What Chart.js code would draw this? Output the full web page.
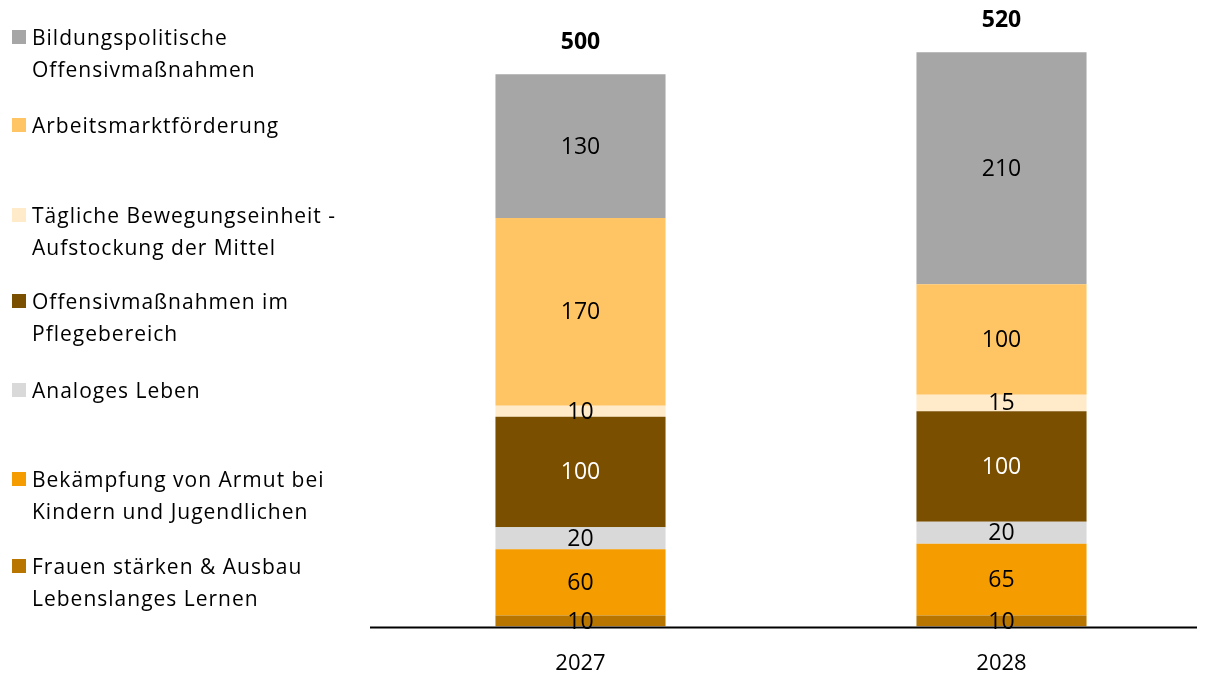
<!DOCTYPE html>
<html>
<head>
<meta charset="utf-8">
<script src="https://cdn.jsdelivr.net/npm/chart.js@4.4.1/dist/chart.umd.min.js"></script>
<style>
  html, body { margin: 0; padding: 0; background: #fff; }
  #wrap { position: relative; width: 1212px; height: 673px; }
  #chart { position: absolute; left: 0; top: 0; }
  #legende { position: absolute; left: 0; top: 0; font-family: "Open Sans", sans-serif; font-size: 21px; letter-spacing: 1px; color: #000; }
  .eintrag { position: absolute; left: 32px; line-height: 32px; white-space: nowrap; }
  .eintrag i { position: absolute; left: -20px; top: 9px; width: 14px; height: 14px; }
</style>
</head>
<body>
<div id="wrap">
  <canvas id="chart" width="1212" height="673"></canvas>
  <div id="legende"></div>
</div>
<script>
// Daten (von unten nach oben gestapelt)
const jahre = ['2027', '2028'];
const bereiche = [
  ['Frauen stärken & Ausbau', 'Lebenslanges Lernen'],
  ['Bekämpfung von Armut bei', 'Kindern und Jugendlichen'],
  ['Analoges Leben'],
  ['Offensivmaßnahmen im', 'Pflegebereich'],
  ['Tägliche Bewegungseinheit -', 'Aufstockung der Mittel'],
  ['Arbeitsmarktförderung'],
  ['Bildungspolitische', 'Offensivmaßnahmen']
];
const frauen = [10, 10];
const armut = [60, 65];
const analog = [20, 20];
const pflege = [100, 100];
const bewegung = [10, 15];
const arbeitsmarkt = [170, 100];
const bildung = [130, 210];
const summen = [500, 520];

const werte = [frauen, armut, analog, pflege, bewegung, arbeitsmarkt, bildung];
const farben = ['#B87600', '#F49C00', '#D9D9D9', '#7B4F00', '#FFEBC9', '#FFC564', '#A6A6A6'];
const textFarben = ['#000', '#000', '#000', '#fff', '#000', '#000', '#000'];

// Legende links (Reihenfolge oben -> unten umgekehrt), Mitte der ersten Zeile
const legendeY = [566, 479, 390, 301, 215, 125, 37];
const legende = document.getElementById('legende');
for (let i = bereiche.length - 1; i >= 0; i--) {
  const d = document.createElement('div');
  d.className = 'eintrag';
  d.style.top = (legendeY[i] - 16) + 'px';
  d.innerHTML = '<i style="background:' + farben[i] + '"></i>' + bereiche[i].join('<br>');
  legende.appendChild(d);
}

// Beschriftungen in den Segmenten, Summen oben und die Grundlinie
const beschriftung = {
  id: 'beschriftung',
  afterDatasetsDraw(chart) {
    const ctx = chart.ctx;
    ctx.save();
    ctx.textAlign = 'center';
    ctx.textBaseline = 'middle';
    ctx.font = '23px "Open Sans", sans-serif';
    chart.data.datasets.forEach((ds, i) => {
      chart.getDatasetMeta(i).data.forEach((bar, j) => {
        ctx.fillStyle = textFarben[i];
        ctx.fillText(ds.data[j], bar.x, (bar.y + bar.base) / 2 + 1);
      });
    });
    const oben = chart.getDatasetMeta(chart.data.datasets.length - 1).data;
    ctx.fillStyle = '#000';
    ctx.font = 'bold 23px "Open Sans", sans-serif';
    oben.forEach((bar, j) => {
      ctx.fillText(summen[j], bar.x, bar.y - 32);
    });
    const a = chart.chartArea;
    ctx.strokeStyle = '#000';
    ctx.lineWidth = 2;
    ctx.beginPath();
    ctx.moveTo(a.left, a.bottom + 1);
    ctx.lineTo(a.right - 15, a.bottom + 1);
    ctx.stroke();
    ctx.restore();
  }
};

new Chart(document.getElementById('chart'), {
  type: 'bar',
  data: {
    labels: jahre,
    datasets: werte.map((w, i) => ({
      label: bereiche[i].join(' '),
      data: w,
      backgroundColor: farben[i],
      borderWidth: 0,
      categoryPercentage: 1,
      barPercentage: 0.404
    }))
  },
  options: {
    responsive: false,
    animation: false,
    layout: { padding: { left: 370, top: 8, right: 0, bottom: -28 } },
    plugins: { legend: { display: false }, tooltip: { enabled: false } },
    scales: {
      x: {
        stacked: true,
        grid: { display: false, drawTicks: false },
        border: { display: false },
        ticks: { color: '#000', padding: 24, font: { family: 'Open Sans', size: 22 } }
      },
      y: {
        stacked: true,
        display: false,
        min: 0,
        max: 560
      }
    }
  },
  plugins: [beschriftung]
});
</script>
</body>
</html>
